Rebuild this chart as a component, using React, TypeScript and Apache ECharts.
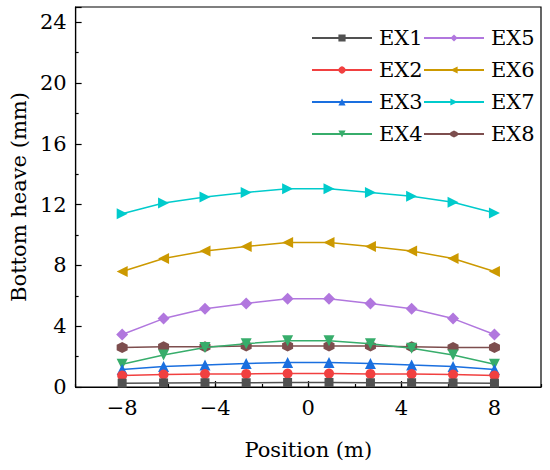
import React, { useEffect, useRef } from "react";
import * as echarts from "echarts";

const positions = [-8, -6.22, -4.44, -2.67, -0.89, 0.89, 2.67, 4.44, 6.22, 8];
const seriesNames = ["EX1", "EX2", "EX3", "EX4", "EX5", "EX6", "EX7", "EX8"];
const ex1 = [0.25, 0.27, 0.28, 0.28, 0.3, 0.3, 0.28, 0.28, 0.27, 0.25];
const ex2 = [0.75, 0.82, 0.85, 0.86, 0.88, 0.88, 0.86, 0.85, 0.82, 0.75];
const ex3 = [1.15, 1.35, 1.45, 1.55, 1.62, 1.62, 1.55, 1.45, 1.35, 1.15];
const ex4 = [1.5, 2.1, 2.6, 2.85, 3.05, 3.05, 2.85, 2.55, 2.1, 1.5];
const ex5 = [3.45, 4.5, 5.15, 5.5, 5.8, 5.8, 5.5, 5.15, 4.5, 3.45];
const ex6 = [7.6, 8.45, 8.95, 9.25, 9.5, 9.5, 9.25, 8.95, 8.45, 7.6];
const ex7 = [11.4, 12.1, 12.5, 12.8, 13.05, 13.05, 12.8, 12.55, 12.15, 11.45];
const ex8 = [2.6, 2.65, 2.65, 2.7, 2.7, 2.7, 2.7, 2.65, 2.6, 2.6];
const xTickLabels = [-8, -4, 0, 4, 8];

const colors = ["#515151", "#F14040", "#1A6FDF", "#37AD6B", "#B177DE", "#CC9900", "#00CBCC", "#7D4E4E"];
const symbols = [
  "rect",
  "circle",
  "triangle",
  "path://M0 0 L100 0 L50 90 Z",
  "diamond",
  "path://M0 50 L90 0 L90 100 Z",
  "path://M0 0 L90 50 L0 100 Z",
  "path://M50 0 L93.3 25 L93.3 75 L50 100 L6.7 75 L6.7 25 Z",
];
const symbolSizes = [9, 10, 11, 11, 12, 11, 11, 11];
const allData = [ex1, ex2, ex3, ex4, ex5, ex6, ex7, ex8];

const FONT = "DejaVu Serif";
const FS = 21;

const fmtNum = (v: number) => (v < 0 ? "\u2212" + Math.abs(v) : String(v));

export default function App() {
  const ref = useRef<HTMLDivElement>(null);
  useEffect(() => {
    if (!ref.current) return;
    const chart = echarts.init(ref.current, null, { renderer: "svg" });
    const series = allData.map((vals, i) => ({
      name: seriesNames[i],
      type: "line",
      data: vals.map((v, j) => [positions[j], v]),
      symbol: symbols[i],
      symbolSize: symbolSizes[i],
      itemStyle: { color: colors[i] },
      lineStyle: { color: colors[i], width: 1.5 },
      z: 10 - i,
    }));
    const legendCommon = {
      orient: "vertical",
      top: 21,
      itemWidth: 60,
      itemHeight: 9,
      itemGap: 8,
      textStyle: { fontFamily: FONT, fontSize: FS, color: "#000", lineHeight: 24, padding: [0, 0, 0, 2] },
    };
    chart.setOption({
      animation: false,
      textStyle: { fontFamily: FONT },
      grid: { left: 68, top: 7, right: 9, bottom: 83, show: true, borderColor: "#000", borderWidth: 1.2 },
      legend: [
        { ...legendCommon, left: 306, data: seriesNames.slice(0, 4) },
        { ...legendCommon, left: 418, data: seriesNames.slice(4, 8) },
      ],
      xAxis: [
        {
          type: "value",
          min: -10,
          max: 10,
          position: "bottom",
          name: "Position (m)",
          nameLocation: "middle",
          nameGap: 52,
          nameTextStyle: { fontFamily: FONT, fontSize: FS, color: "#000" },
          axisLine: { show: true, onZero: false, lineStyle: { color: "#000", width: 1.2 } },
          axisTick: { show: true, inside: true, length: 6, customValues: xTickLabels, lineStyle: { color: "#000", width: 1.2 } },
          axisLabel: {
            customValues: xTickLabels,
            fontFamily: FONT,
            fontSize: FS,
            color: "#000",
            margin: 10,
            formatter: fmtNum,
          },
          splitLine: { show: false },
        },
        {
          type: "value",
          min: -10,
          max: 10,
          interval: 2,
          position: "bottom",
          axisLine: { show: false, onZero: false },
          axisTick: { show: true, inside: true, length: 3, lineStyle: { color: "#000", width: 1.2 } },
          axisLabel: { show: false },
          splitLine: { show: false },
        },
      ],
      yAxis: {
        type: "value",
        min: 0,
        max: 25,
        interval: 4,
        name: "Bottom heave (mm)",
        nameLocation: "middle",
        nameGap: 42,
        nameTextStyle: { fontFamily: FONT, fontSize: FS, color: "#000" },
        axisLine: { show: true, onZero: false, lineStyle: { color: "#000", width: 1.2 } },
        axisTick: { show: true, inside: true, length: 6, lineStyle: { color: "#000", width: 1.2 } },
        minorTick: { show: true, splitNumber: 2, length: 3, lineStyle: { color: "#000", width: 1.2 } },
        axisLabel: {
          fontFamily: FONT,
          fontSize: FS,
          color: "#000",
          margin: 9,
          formatter: (v: number) => (v % 4 === 0 ? String(v) : ""),
        },
        splitLine: { show: false },
      },
      series,
    });
    return () => chart.dispose();
  }, []);
  return <div ref={ref} style={{ position: "fixed", left: 0, top: 0, width: 550, height: 470, background: "#fff" }} />;
}
